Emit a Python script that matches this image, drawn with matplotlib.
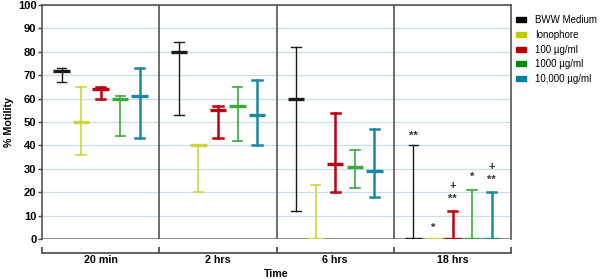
import matplotlib.pyplot as plt
from matplotlib.patches import Patch

plt.rcParams['font.family'] = ['Liberation Sans', 'DejaVu Sans']

groups = ['20 min', '2 hrs', '6 hrs', '18 hrs']
series = ['BWW Medium', 'Ionophore', '100 µg/ml', '1000 µg/ml', '10,000 µg/ml']
colors = ['#1a1a1a', '#cdd53c', '#c00010', '#3aaa3a', '#1a8aa0']
legend_colors = ['#000000', '#c4cc00', '#b00000', '#008a00', '#00809a']

# median, low, high per series, one value per time point
median = [[72, 80, 60, 0], [50, 40, 0, 0], [64, 55, 32, 0], [60, 57, 31, 0], [61, 53, 29, 0]]
low = [[67, 53, 12, 0], [36, 20, 0, 0], [60, 43, 20, 0], [44, 42, 22, 0], [43, 40, 18, 0]]
high = [[73, 84, 82, 40], [65, 40, 23, 0], [65, 57, 54, 12], [61, 65, 38, 21], [73, 68, 47, 20]]

# significance marks at 18 hrs (series index, y, text)
marks = [(0, 44, '**'), (1, 5, '*'), (2, 17, '**'), (2, 22.5, '+'),
         (3, 26.5, '*'), (4, 25.5, '**'), (4, 31, '+')]

lw_whisk = [1.0, 1.2, 1.8, 1.2, 1.8]

fig = plt.figure(figsize=(6, 2.79), dpi=100)
ax = fig.add_axes([0.07, 0.143, 0.782, 0.839])

offs = [-0.333, -0.167, 0.0, 0.167, 0.333]
med_w = 0.07
cap_w = 0.04

for i in range(len(series)):
    for g in range(len(groups)):
        x = g + offs[i]
        c = colors[i]
        ax.plot([x, x], [low[i][g], high[i][g]], color=c, lw=lw_whisk[i], zorder=3)
        ax.plot([x - cap_w, x + cap_w], [low[i][g]] * 2, color=c, lw=lw_whisk[i], zorder=3)
        ax.plot([x - cap_w, x + cap_w], [high[i][g]] * 2, color=c, lw=lw_whisk[i], zorder=3)
        ax.plot([x - med_w, x + med_w], [median[i][g]] * 2, color=c, lw=2.4, zorder=4,
                solid_capstyle='butt')

for s, y, t in marks:
    ax.text(3 + offs[s], y, t, ha='center', va='center', fontsize=8, color='#333333',
            fontweight='bold')

ax.set_xlim(-0.5, 3.5)
ax.set_ylim(0, 100)
ax.set_yticks(range(0, 101, 10))
for y in range(10, 101, 10):
    ax.axhline(y, color='#c8dcf2', lw=0.9, zorder=0)
for xb in [0.5, 1.5, 2.5]:
    ax.axvline(xb, color='#555555', lw=1.2, zorder=1)
ax.axhline(0, color='#666666', lw=1.8, zorder=2)

for sp in ['top', 'right', 'left']:
    ax.spines[sp].set_color('#555555')
    ax.spines[sp].set_linewidth(1.2)
ax.spines['bottom'].set_position(('outward', 10))
ax.spines['bottom'].set_color('#444444')
ax.spines['bottom'].set_linewidth(1.2)

ax.set_xticks([-0.5, 0.5, 1.5, 2.5, 3.5])
ax.set_xticklabels([])
ax.tick_params(axis='x', which='major', direction='in', length=4, color='#444444', width=1.2)
ax.set_xticks(range(len(groups)), minor=True)
ax.set_xticklabels(groups, minor=True, fontsize=7.7, fontweight='bold')
ax.tick_params(axis='x', which='minor', length=0, pad=1.5)
ax.tick_params(axis='y', length=3, color='#444444', width=1.0, labelsize=8, pad=1)
for lab in ax.get_yticklabels():
    lab.set_fontweight('bold')

ax.set_ylabel('% Motility', fontsize=7.7, fontweight='bold', labelpad=3)
ax.set_xlabel('Time', fontsize=7.7, fontweight='bold', labelpad=3)

handles = [Patch(facecolor=c, edgecolor=c) for c in legend_colors]
fig.legend(handles, series, loc='upper left', bbox_to_anchor=(0.86, 0.945), frameon=False,
           borderpad=0, borderaxespad=0, fontsize=7, handlelength=1.05, handleheight=0.45,
           labelspacing=0.48, handletextpad=0.9)

fig.savefig('out.png', dpi=100)
